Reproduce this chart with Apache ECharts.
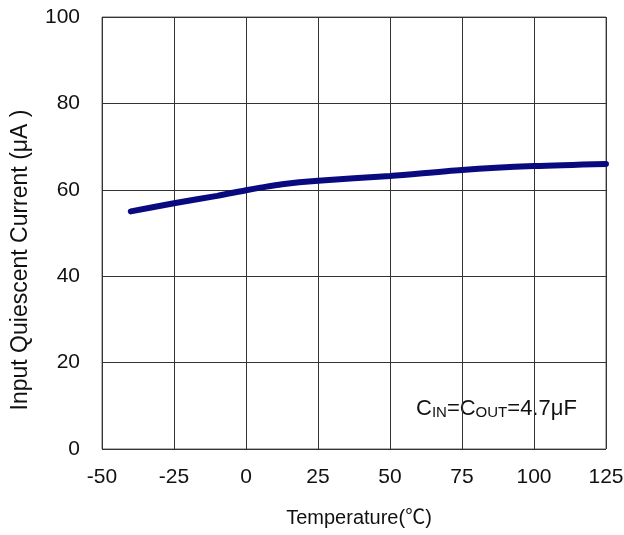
<!DOCTYPE html>
<html>
<head>
<meta charset="utf-8">
<script src="https://cdn.jsdelivr.net/npm/echarts@6/dist/echarts.min.js"></script>
<style>html,body{margin:0;padding:0;background:#fff}#c{width:624px;height:535px}</style>
</head>
<body>
<div id="c"></div>
<script>
var temperatures = [-40, -25, -10, 0, 5, 12.5, 25, 50, 75, 100, 125];
var quiescentCurrent = [55.0, 56.9, 58.6, 59.9, 60.5, 61.3, 62.1, 63.2, 64.6, 65.5, 66.0];
var xTicks = [-50, 125, 25];
var yTicks = [0, 100, 20];

var FONT = '"Liberation Sans", Arial, "Noto Sans CJK SC", sans-serif';
var chart = echarts.init(document.getElementById('c'));
chart.setOption({
  animation: false,
  backgroundColor: '#fff',
  grid: { left: 102, right: 18, top: 17, bottom: 86, show: true, borderColor: '#666', borderWidth: 1, outerBoundsMode: 'none', containLabel: false },
  xAxis: {
    type: 'value', min: xTicks[0], max: xTicks[1], interval: xTicks[2],
    name: 'Temperature(℃)', nameLocation: 'middle', nameGap: 59,
    nameTextStyle: { fontFamily: FONT, fontSize: 20, color: '#111', padding: [0, 0, 0, 10] },
    axisLine: { show: false }, axisTick: { show: false },
    axisLabel: { fontFamily: FONT, fontSize: 21, color: '#111', margin: 18 },
    splitLine: { show: true, lineStyle: { color: '#333', width: 1 } }
  },
  yAxis: {
    type: 'value', min: yTicks[0], max: yTicks[1], interval: yTicks[2],
    name: 'Input Quiescent Current (μA )', nameLocation: 'middle', nameGap: 70,
    nameTextStyle: { fontFamily: FONT, fontSize: 23, color: '#111', padding: [0, 54, 0, 0] },
    axisLine: { show: false }, axisTick: { show: false },
    axisLabel: { fontFamily: FONT, fontSize: 21, color: '#111', margin: 22 },
    splitLine: { show: true, lineStyle: { color: '#333', width: 1 } }
  },
  series: [{
    type: 'line', smooth: 0.3, showSymbol: false,
    data: temperatures.map(function (t, i) { return [t, quiescentCurrent[i]]; }),
    lineStyle: { color: '#0a0a80', width: 6, cap: 'round' }
  }],
  graphic: [{
    type: 'text', left: 416, top: 398,
    style: {
      text: '{b|C}{s|IN}{b|=C}{s|OUT}{b|=4.7μF}',
      rich: {
        b: { fontFamily: FONT, fontSize: 22, fill: '#111', color: '#111', verticalAlign: 'bottom', lineHeight: 25 },
        s: { fontFamily: FONT, fontSize: 15, fill: '#111', color: '#111', verticalAlign: 'bottom', lineHeight: 22 }
      }
    }
  }]
});
</script>
</body>
</html>
